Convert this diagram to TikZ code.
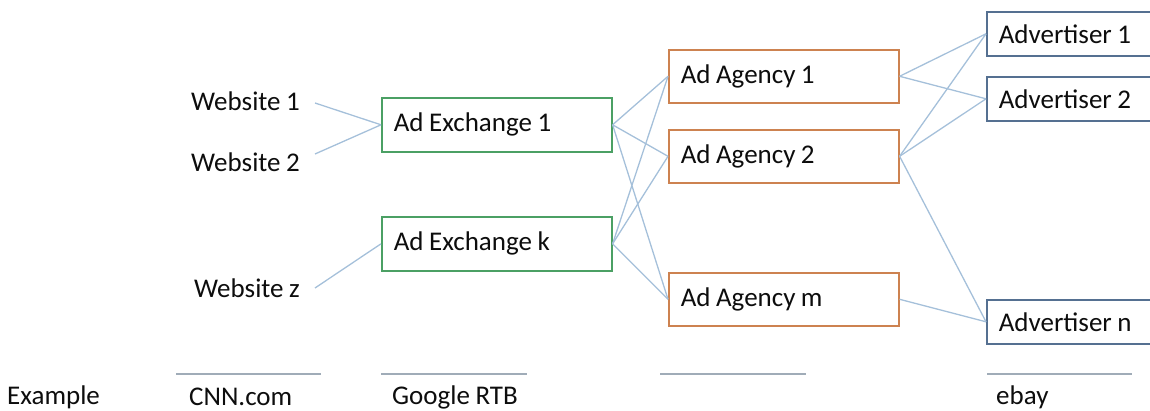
\documentclass[tikz,border=0pt]{standalone}
\usepackage{fontspec}
\setmainfont{Carlito}[WordSpace=0.9]
\definecolor{exgreen}{RGB}{75,160,100}
\definecolor{agorange}{RGB}{205,130,80}
\definecolor{advblue}{RGB}{85,112,145}
\definecolor{conn}{RGB}{165,192,218}
\definecolor{rule}{RGB}{160,172,184}
\newcommand\wideL[1]{\makebox[206pt][l]{#1}}
\newcommand\narrowL[1]{\makebox[150pt][l]{#1}}
\begin{document}
\begin{tikzpicture}[x=1pt,y=-1pt,
  every node/.style={font=\fontsize{27}{32}\selectfont, text=black!95},
  box/.style={draw, line width=1.6pt, fill=white, inner xsep=12pt, inner ysep=0pt, anchor=north west},
  exbox/.style={box, draw=exgreen, minimum height=54pt},
  agbox/.style={box, draw=agorange, minimum height=53pt},
  advbox/.style={box, draw=advblue, minimum height=44pt},
  site/.style={anchor=east, inner xsep=15pt, inner ysep=0pt},
  lbl/.style={anchor=west, inner sep=0pt},
  link/.style={draw=conn, line width=1.3pt},
  baserule/.style={draw=rule, line width=1.6pt}]
\useasboundingbox (0,0) rectangle (1150,411);

% websites
\node[site] (w1) at (315,101) {Website 1};
\node[site] (w2) at (315,162) {Website 2};
\node[site] (wz) at (315,288) {Website z};

% boxes
\node[exbox] (ex1) at (381,97) {\wideL{Ad Exchange 1}};
\node[exbox] (exk) at (381,216) {\wideL{Ad Exchange k}};
\node[agbox] (ag1) at (668,49) {\wideL{Ad Agency 1}};
\node[agbox] (ag2) at (668,129) {\wideL{Ad Agency 2}};
\node[agbox] (agm) at (668,272) {\wideL{Ad Agency m}};
\node[advbox] (adv1) at (986,11) {\narrowL{Advertiser 1}};
\node[advbox] (adv2) at (986,76) {\narrowL{Advertiser 2}};
\node[advbox] (advn) at (986,299) {\narrowL{Advertiser n}};

\begin{scope}[every path/.style={link}]
\draw ([yshift=-2pt]w1.east) -- (ex1.west);
\draw ([yshift=8pt]w2.east) -- (ex1.west);
\draw (wz.east) -- (exk.west);
\draw (ex1.east) -- (ag1.west);
\draw (ex1.east) -- (ag2.west);
\draw (ex1.east) -- (agm.west);
\draw (exk.east) -- (ag1.west);
\draw (exk.east) -- (ag2.west);
\draw (exk.east) -- (agm.west);
\draw (ag1.east) -- (adv1.west);
\draw (ag1.east) -- (adv2.west);
\draw (ag2.east) -- (adv1.west);
\draw (ag2.east) -- (adv2.west);
\draw (ag2.east) -- (advn.west);
\draw (agm.east) -- (advn.west);
\end{scope}

% bottom row
\coordinate (r1a) at (176,374); \coordinate (r1b) at (321,374);
\coordinate (r2a) at (381,374); \coordinate (r2b) at (527,374);
\coordinate (r3a) at (660,374); \coordinate (r3b) at (806,374);
\coordinate (r4a) at (987,374); \coordinate (r4b) at (1132,374);
\draw[baserule] (r1a) -- (r1b);
\draw[baserule] (r2a) -- (r2b);
\draw[baserule] (r3a) -- (r3b);
\draw[baserule] (r4a) -- (r4b);
\node[lbl] (ex) at (7,397) {Example};
\node[lbl] (cnn) at (189,397) {CNN.com};
\node[lbl] (goog) at (392,397) {Google RTB};
\node[lbl] (ebay) at (996,397) {ebay};
\end{tikzpicture}
\end{document}
